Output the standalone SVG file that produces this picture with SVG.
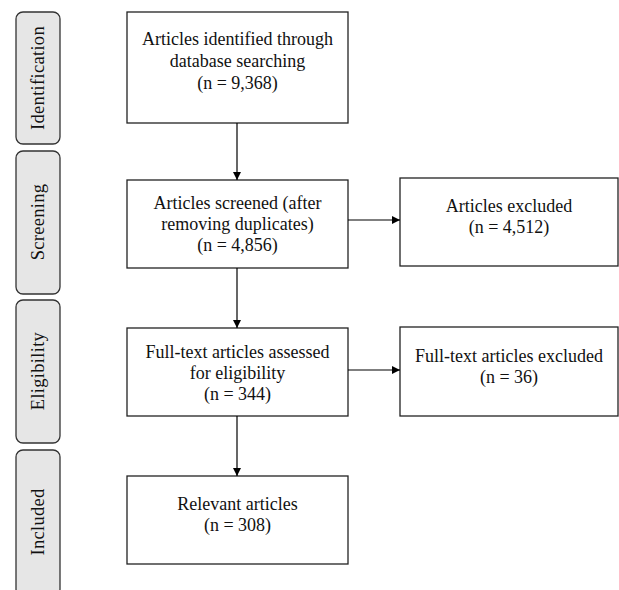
<svg xmlns="http://www.w3.org/2000/svg" width="619" height="590" viewBox="0 0 619 590">
<defs>
<marker id="arr" markerWidth="8" markerHeight="8" refX="8" refY="4" orient="auto" markerUnits="userSpaceOnUse">
<path d="M0,0 L8,4 L0,8 Z" fill="#000"/>
</marker>
<style>
.box{fill:#fff;stroke:#222;stroke-width:1.3}
.side{fill:#e6e6e6;stroke:#333;stroke-width:1.3}
text{font-family:"Liberation Serif","Times New Roman",serif;font-size:18px;fill:#111;text-anchor:middle}
.sl{font-size:18.5px;letter-spacing:0.3px}
.conn{stroke:#000;stroke-width:1.2;fill:none;marker-end:url(#arr)}
</style>
</defs>
<rect width="619" height="590" fill="#fff"/>
<g id="stage-identification"><rect class="side" x="16" y="12" width="44" height="132" rx="7"/><text class="sl" transform="translate(44,78) rotate(-90)">Identification</text></g>
<g id="stage-screening"><rect class="side" x="16" y="151" width="44" height="143" rx="7"/><text class="sl" transform="translate(44,222) rotate(-90)">Screening</text></g>
<g id="stage-eligibility"><rect class="side" x="16" y="300" width="44" height="143" rx="7"/><text class="sl" transform="translate(44,371) rotate(-90)">Eligibility</text></g>
<g id="stage-included"><rect class="side" x="16" y="450" width="44" height="146" rx="7"/><text class="sl" transform="translate(44,522) rotate(-90)">Included</text></g>

<g id="identified"><rect class="box" x="127" y="12" width="221" height="111"/>
<text x="237.5" y="45">Articles identified through</text>
<text x="237.5" y="67">database searching</text>
<text x="237.5" y="89">(n = 9,368)</text></g>
<g id="screened"><rect class="box" x="127" y="180" width="221" height="88"/>
<text x="237.5" y="209">Articles screened (after</text>
<text x="237.5" y="230">removing duplicates)</text>
<text x="237.5" y="251">(n = 4,856)</text></g>
<g id="excluded"><rect class="box" x="400" y="178" width="218" height="88"/>
<text x="509" y="212">Articles excluded</text>
<text x="509" y="233">(n = 4,512)</text></g>
<g id="assessed"><rect class="box" x="127" y="328" width="221" height="88"/>
<text x="237.5" y="358">Full-text articles assessed</text>
<text x="237.5" y="379">for eligibility</text>
<text x="237.5" y="400">(n = 344)</text></g>
<g id="ft-excluded"><rect class="box" x="400" y="327" width="218" height="89"/>
<text x="509" y="362">Full-text articles excluded</text>
<text x="509" y="383">(n = 36)</text></g>
<g id="relevant"><rect class="box" x="127" y="476" width="221" height="88"/>
<text x="237.5" y="510">Relevant articles</text>
<text x="237.5" y="531">(n = 308)</text></g>

<g id="connectors">
<line class="conn" x1="237" y1="123" x2="237" y2="180"/>
<line class="conn" x1="237" y1="268" x2="237" y2="328"/>
<line class="conn" x1="237" y1="416" x2="237" y2="476"/>
<line class="conn" x1="348" y1="220" x2="400" y2="220"/>
<line class="conn" x1="348" y1="370" x2="400" y2="370"/>
</g>
</svg>
